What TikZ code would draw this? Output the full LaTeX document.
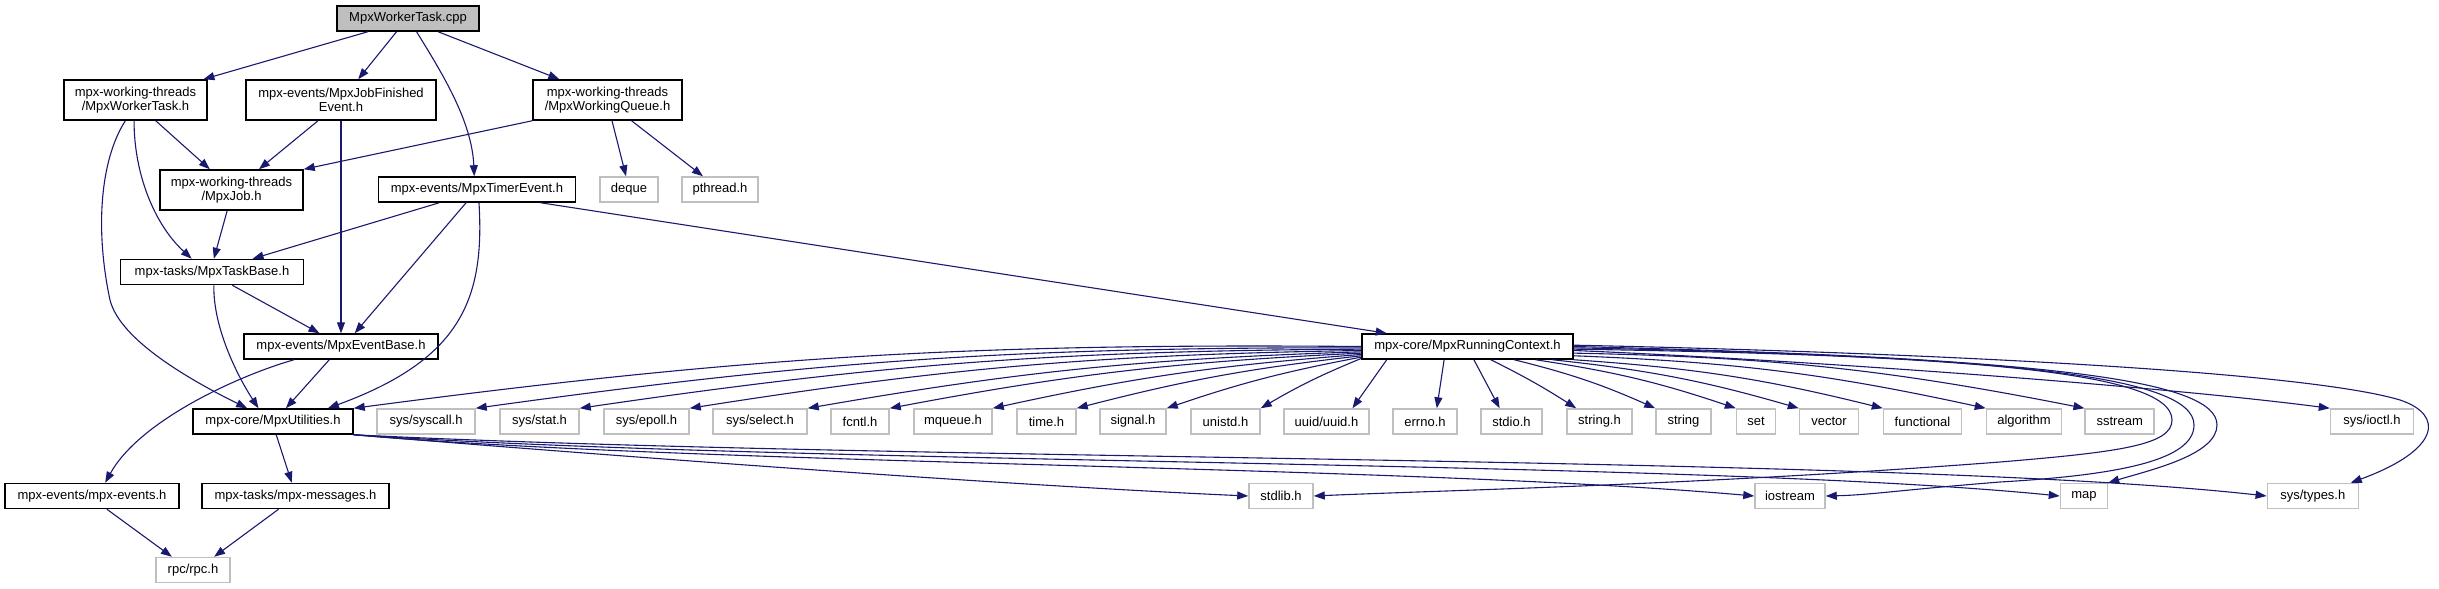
\documentclass[tikz,border=0pt]{standalone}
\usepackage{fontspec}
\setmainfont{Liberation Sans}
\usetikzlibrary{arrows.meta,calc}
\definecolor{edgeblue}{HTML}{191970}
\definecolor{boxgray}{HTML}{BFBFBF}
\begin{document}
\begin{tikzpicture}[x=1pt,y=-1pt,
  every node/.style={font=\fontsize{13}{14}\selectfont, inner sep=0pt, align=center, rectangle},
  proj/.style={draw=black, line width=1.5pt, fill=white},
  sysbox/.style={draw=boxgray, line width=1.5pt, fill=white},
  rootbox/.style={draw=black, line width=1.5pt, fill=boxgray},
  conn/.style={draw=edgeblue, line width=1.1pt, -{Triangle[length=11pt,width=8pt]}},
]
\useasboundingbox (0,0) rectangle (2439,589);
% ---------- nodes ----------
\node[rootbox, minimum width=142pt, minimum height=25pt] (cpp) at (408,18.5) {MpxWorkerTask.cpp};
\node[proj, minimum width=143pt, minimum height=40pt] (wt) at (135.5,100) {mpx-working-threads\\/MpxWorkerTask.h};
\node[proj, minimum width=190pt, minimum height=40pt] (jfe) at (341,100) {mpx-events/MpxJobFinished\\Event.h};
\node[proj, minimum width=149pt, minimum height=40pt] (wq) at (607.5,100) {mpx-working-threads\\/MpxWorkingQueue.h};
\node[proj, minimum width=143pt, minimum height=40pt] (job) at (231.5,190) {mpx-working-threads\\/MpxJob.h};
\node[proj, minimum width=197pt, minimum height=25pt] (timer) at (477,189.5) {mpx-events/MpxTimerEvent.h};
\node[sysbox, minimum width=58pt, minimum height=25pt] (deque) at (629,189.5) {deque};
\node[sysbox, minimum width=76pt, minimum height=25pt] (pthread) at (720,189.5) {pthread.h};
\node[proj, minimum width=183pt, minimum height=25pt] (taskbase) at (212,272) {mpx-tasks/MpxTaskBase.h};
\node[proj, minimum width=194pt, minimum height=25pt] (eventbase) at (341,346.5) {mpx-events/MpxEventBase.h};
\node[proj, minimum width=211pt, minimum height=25pt] (rc) at (1467.5,346.5) {mpx-core/MpxRunningContext.h};
\node[proj, minimum width=160pt, minimum height=25pt] (util) at (273,421.5) {mpx-core/MpxUtilities.h};
\node[sysbox, minimum width=98pt, minimum height=25pt] (syscall) at (426,421.5) {sys/syscall.h};
\node[sysbox, minimum width=79pt, minimum height=25pt] (stat) at (539.5,421.5) {sys/stat.h};
\node[sysbox, minimum width=85pt, minimum height=25pt] (epoll) at (646.5,421.5) {sys/epoll.h};
\node[sysbox, minimum width=94pt, minimum height=25pt] (select) at (760,421.5) {sys/select.h};
\node[sysbox, minimum width=58pt, minimum height=25pt] (fcntl) at (860,421.5) {fcntl.h};
\node[sysbox, minimum width=78pt, minimum height=25pt] (mqueue) at (953,421.5) {mqueue.h};
\node[sysbox, minimum width=59pt, minimum height=25pt] (timeh) at (1046.5,421.5) {time.h};
\node[sysbox, minimum width=66pt, minimum height=25pt] (signal) at (1133,421.5) {signal.h};
\node[sysbox, minimum width=69pt, minimum height=25pt] (unistd) at (1225.5,421.5) {unistd.h};
\node[sysbox, minimum width=85pt, minimum height=25pt] (uuid) at (1326.5,421.5) {uuid/uuid.h};
\node[sysbox, minimum width=64pt, minimum height=25pt] (errno) at (1425,421.5) {errno.h};
\node[sysbox, minimum width=61pt, minimum height=25pt] (stdio) at (1511.5,421.5) {stdio.h};
\node[sysbox, minimum width=65pt, minimum height=25pt] (stringh) at (1599.5,421.5) {string.h};
\node[sysbox, minimum width=55pt, minimum height=25pt] (string) at (1683.5,421.5) {string};
\node[sysbox, minimum width=39pt, minimum height=25pt] (set) at (1756,421.5) {set};
\node[sysbox, minimum width=59pt, minimum height=25pt] (vector) at (1829,421.5) {vector};
\node[sysbox, minimum width=78pt, minimum height=25pt] (functional) at (1922.5,421.5) {functional};
\node[sysbox, minimum width=75pt, minimum height=25pt] (algorithm) at (2024,421.5) {algorithm};
\node[sysbox, minimum width=69pt, minimum height=25pt] (sstream) at (2119.7,421.5) {sstream};
\node[sysbox, minimum width=83pt, minimum height=25pt] (ioctl) at (2372,421.5) {sys/ioctl.h};
\node[proj, minimum width=174pt, minimum height=25pt] (mpxevents) at (92,496) {mpx-events/mpx-events.h};
\node[proj, minimum width=187pt, minimum height=25pt] (messages) at (295.5,496) {mpx-tasks/mpx-messages.h};
\node[sysbox, minimum width=64pt, minimum height=25pt] (stdlib) at (1281,496) {stdlib.h};
\node[sysbox, minimum width=70pt, minimum height=25pt] (iostream) at (1790,496) {iostream};
\node[sysbox, minimum width=47pt, minimum height=25pt] (map) at (2084,496) {map};
\node[sysbox, minimum width=91pt, minimum height=25pt] (systypes) at (2312.8,496) {sys/types.h};
\node[sysbox, minimum width=74pt, minimum height=25pt] (rpc) at (193,570) {rpc/rpc.h};
% ---------- edges from the root ----------
\draw[conn] ($(cpp.south west)!0.22!(cpp.south east)$) -- ($(wt.north west)!0.97!(wt.north east)$);
\draw[conn] ($(cpp.south west)!0.42!(cpp.south east)$) -- ($(jfe.north west)!0.59!(jfe.north east)$);
\draw[conn] ($(cpp.south west)!0.56!(cpp.south east)$) .. controls (440,70) and (472,120) .. ($(timer.north west)!0.486!(timer.north east)$);
\draw[conn] ($(cpp.south west)!0.71!(cpp.south east)$) -- ($(wq.north west)!0.18!(wq.north east)$);
% ---------- project headers ----------
\draw[conn] ($(wt.south west)!0.64!(wt.south east)$) -- ($(job.north west)!0.35!(job.north east)$);
\draw[conn] ($(wt.south west)!0.49!(wt.south east)$) .. controls (134,175) and (155,225) .. ($(taskbase.north west)!0.39!(taskbase.north east)$);
\draw[conn] ($(wt.south west)!0.43!(wt.south east)$) .. controls (100,160) and (95,230) .. (110,300) .. controls (120,340) and (190,380) .. ($(util.north west)!0.34!(util.north east)$);
\draw[conn] ($(jfe.south west)!0.38!(jfe.south east)$) -- ($(job.north west)!0.69!(job.north east)$);
\draw[conn] (jfe.south) -- (eventbase.north);
\draw[conn] (wq.south west) -- (job.north east);
\draw[conn] ($(wq.south west)!0.53!(wq.south east)$) -- ($(deque.north west)!0.45!(deque.north east)$);
\draw[conn] ($(wq.south west)!0.66!(wq.south east)$) -- ($(pthread.north west)!0.28!(pthread.north east)$);
\draw[conn] ($(job.south west)!0.47!(job.south east)$) -- ($(taskbase.north west)!0.51!(taskbase.north east)$);
\draw[conn] ($(timer.south west)!0.31!(timer.south east)$) -- ($(taskbase.north west)!0.72!(taskbase.north east)$);
\draw[conn] ($(timer.south west)!0.445!(timer.south east)$) -- ($(eventbase.north west)!0.57!(eventbase.north east)$);
\draw[conn] ($(timer.south west)!0.51!(timer.south east)$) .. controls (485,300) and (460,360) .. ($(util.north west)!0.84!(util.north east)$);
\draw[conn] ($(timer.south west)!0.82!(timer.south east)$) -- ($(rc.north west)!0.12!(rc.north east)$);
\draw[conn] ($(taskbase.south west)!0.61!(taskbase.south east)$) -- ($(eventbase.north west)!0.39!(eventbase.north east)$);
\draw[conn] ($(taskbase.south west)!0.51!(taskbase.south east)$) .. controls (213,330) and (240,380) .. ($(util.north west)!0.41!(util.north east)$);
\draw[conn] ($(eventbase.south west)!0.44!(eventbase.south east)$) -- ($(util.north west)!0.58!(util.north east)$);
\draw[conn] ($(eventbase.south west)!0.26!(eventbase.south east)$) .. controls (240,375) and (140,420) .. ($(mpxevents.north west)!0.575!(mpxevents.north east)$);
\draw[conn] ($(util.south west)!0.52!(util.south east)$) -- ($(messages.north west)!0.48!(messages.north east)$);
\draw[conn] ($(mpxevents.south west)!0.585!(mpxevents.south east)$) -- ($(rpc.north west)!0.22!(rpc.north east)$);
\draw[conn] ($(messages.south west)!0.41!(messages.south east)$) -- ($(rpc.north west)!0.78!(rpc.north east)$);
% ---------- utilities to system headers ----------
\draw[conn] (util.south east) .. controls (600,455) and (1000,485) .. (stdlib.west);
\draw[conn] (util.south east) .. controls (700,465) and (1400,465) .. (iostream.west);
\draw[conn] (util.south east) .. controls (800,465) and (1700,460) .. (map.west);
\draw[conn] (util.south east) .. controls (900,462) and (1900,455) .. (systypes.west);
% ---------- running context, left fan ----------
\draw[conn] ($(rc.north west)!0.50!(rc.south west)$) to[bend right=4] (util.north east);
\draw[conn] ($(rc.north west)!0.55!(rc.south west)$) to[bend right=4] (syscall.north east);
\draw[conn] ($(rc.north west)!0.60!(rc.south west)$) to[bend right=4] (stat.north east);
\draw[conn] ($(rc.north west)!0.65!(rc.south west)$) to[bend right=4] (epoll.north east);
\draw[conn] ($(rc.north west)!0.70!(rc.south west)$) to[bend right=4] (select.north east);
\draw[conn] ($(rc.north west)!0.75!(rc.south west)$) to[bend right=4] (fcntl.north east);
\draw[conn] ($(rc.north west)!0.80!(rc.south west)$) to[bend right=4] (mqueue.north east);
\draw[conn] ($(rc.north west)!0.85!(rc.south west)$) to[bend right=4] (timeh.north east);
\draw[conn] ($(rc.north west)!0.90!(rc.south west)$) to[bend right=4] (signal.north east);
\draw[conn] ($(rc.north west)!0.95!(rc.south west)$) to[bend right=4] (unistd.north east);
\draw[conn] ($(rc.south west)!0.12!(rc.south east)$) -- ($(uuid.north west)!0.8!(uuid.north east)$);
\draw[conn] ($(rc.south west)!0.39!(rc.south east)$) -- ($(errno.north west)!0.68!(errno.north east)$);
\draw[conn] ($(rc.south west)!0.53!(rc.south east)$) -- ($(stdio.north west)!0.31!(stdio.north east)$);
% ---------- running context, right fan ----------
\draw[conn] ($(rc.south west)!0.61!(rc.south east)$) to[bend left=3] ($(stringh.north west)!0.15!(stringh.north east)$);
\draw[conn] ($(rc.south west)!0.72!(rc.south east)$) to[bend left=5] (string.north west);
\draw[conn] ($(rc.south west)!0.82!(rc.south east)$) to[bend left=5] (set.north west);
\draw[conn] ($(rc.south west)!0.90!(rc.south east)$) to[bend left=5] (vector.north west);
\draw[conn] (rc.south east) to[bend left=5] (functional.north west);
\draw[conn] ($(rc.north east)!0.85!(rc.south east)$) to[bend left=5] (algorithm.north west);
\draw[conn] ($(rc.north east)!0.75!(rc.south east)$) to[bend left=5] (sstream.north west);
\draw[conn] ($(rc.north east)!0.65!(rc.south east)$) .. controls (1800,360) and (2150,385) .. (ioctl.north west);
\draw[conn] ($(rc.north east)!0.60!(rc.south east)$) .. controls (1950,355) and (2172,370) .. (2172,420) .. controls (2172,445) and (2120,452) .. (2000,462) .. controls (1700,485) and (1450,490) .. (stdlib.east);
\draw[conn] ($(rc.north east)!0.55!(rc.south east)$) .. controls (2000,356) and (2194,375) .. (2194,425) .. controls (2194,460) and (2120,475) .. (2000,482) .. controls (1900,490) and (1870,495) .. (iostream.east);
\draw[conn] ($(rc.north east)!0.50!(rc.south east)$) .. controls (2050,358) and (2217,380) .. (2217,425) .. controls (2217,455) and (2150,470) .. (map.north east);
\draw[conn] ($(rc.north east)!0.45!(rc.south east)$) .. controls (1900,352) and (2300,370) .. (2400,400) .. controls (2445,415) and (2440,450) .. ($(systypes.north west)!0.91!(systypes.north east)$);
\end{tikzpicture}
\end{document}
